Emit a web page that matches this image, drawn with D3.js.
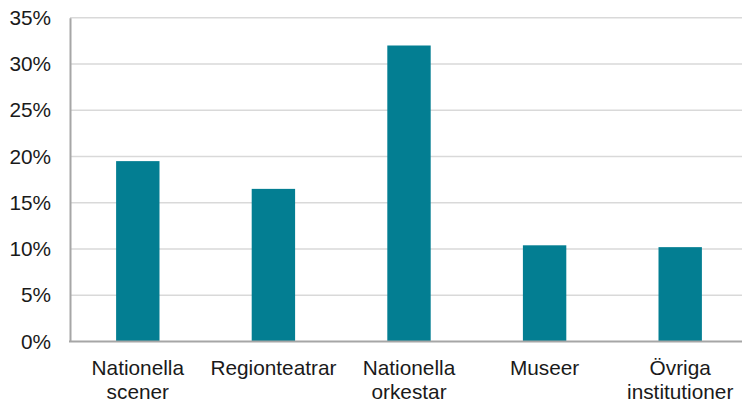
<!DOCTYPE html>
<html>
<head>
<meta charset="utf-8">
<script src="https://cdn.jsdelivr.net/npm/d3@7"></script>
<style>
  html, body { margin: 0; padding: 0; background: #fff; }
  svg { display: block; }
  text { font-family: "Liberation Sans", Arial, sans-serif; fill: #1a1a1a; }
</style>
</head>
<body>
<svg id="chart" width="742" height="401"></svg>
<script>
// Share per institution type
const categories = [["Nationella", "scener"], ["Regionteatrar"], ["Nationella", "orkestar"], ["Museer"], ["Övriga", "institutioner"]];
const values = [0.195, 0.165, 0.320, 0.104, 0.102];
const yTicks = [0, 0.05, 0.10, 0.15, 0.20, 0.25, 0.30, 0.35];

const svg = d3.select("#chart");
const plot = { left: 70, right: 748, top: 17.75, bottom: 341.5 };

const x = d3.scaleBand()
  .domain(categories.map((c, i) => i))
  .range([plot.left, plot.right])
  .paddingInner(0.68)
  .paddingOuter(0.34);

const y = d3.scaleLinear().domain([0, 0.35]).range([plot.bottom, plot.top]);

// gridlines
svg.append("g")
  .selectAll("line")
  .data(yTicks.filter(t => t > 0))
  .join("line")
  .attr("x1", plot.left).attr("x2", plot.right)
  .attr("y1", d => y(d)).attr("y2", d => y(d))
  .attr("stroke", "#d9d9d9").attr("stroke-width", 1.5);

// bars
svg.append("g")
  .selectAll("rect")
  .data(values)
  .join("rect")
  .attr("x", (d, i) => x(i))
  .attr("width", x.bandwidth())
  .attr("y", d => y(d))
  .attr("height", d => y(0) - y(d))
  .attr("fill", "#037e92");

// y axis
const yAxis = svg.append("g")
  .attr("transform", `translate(${plot.left},0)`)
  .call(d3.axisLeft(y).tickValues(yTicks).tickFormat(d3.format(".0%")).tickSize(0).tickPadding(19));
yAxis.select(".domain").attr("stroke", "#a6a6a6").attr("stroke-width", 2);
yAxis.selectAll("text").attr("font-size", 20.8).attr("fill", "#1a1a1a")
  .attr("font-family", "Liberation Sans, Arial, sans-serif");

// x axis line
svg.append("line")
  .attr("x1", plot.left - 1).attr("x2", plot.right)
  .attr("y1", y(0)).attr("y2", y(0))
  .attr("stroke", "#a6a6a6").attr("stroke-width", 2);

// category labels
const labels = svg.append("g")
  .selectAll("text")
  .data(categories)
  .join("text")
  .attr("x", (d, i) => x(i) + x.bandwidth() / 2)
  .attr("y", 374.5)
  .attr("text-anchor", "middle")
  .attr("font-size", 20.8);
labels.selectAll("tspan")
  .data(d => d)
  .join("tspan")
  .attr("x", function () { return d3.select(this.parentNode).attr("x"); })
  .attr("dy", (d, i) => i === 0 ? 0 : 24)
  .text(d => d);
</script>
</body>
</html>
